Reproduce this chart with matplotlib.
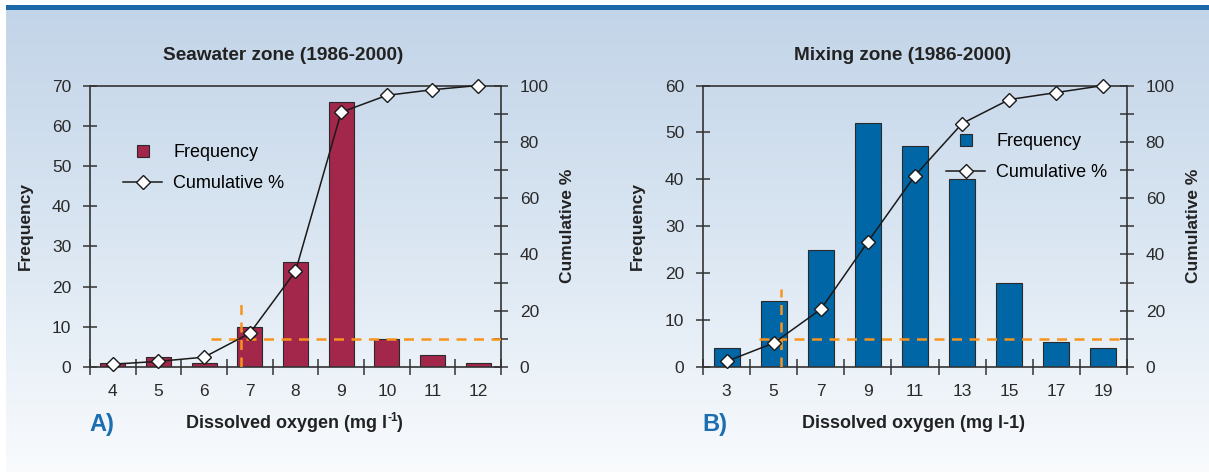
import numpy as np
import matplotlib
matplotlib.use("Agg")
import matplotlib.pyplot as plt
from matplotlib.colors import LinearSegmentedColormap
from matplotlib.lines import Line2D
from matplotlib.patches import Rectangle

plt.rcParams['font.family'] = ['Liberation Sans', 'DejaVu Sans']

# ---- data -------------------------------------------------------------
sea_do = [4, 5, 6, 7, 8, 9, 10, 11, 12]
sea_freq = [1, 2.5, 1, 10, 26, 66, 7, 3, 1]
sea_cum = [1, 2, 3.5, 12, 34, 90.5, 96.5, 98.5, 100]

mix_do = [3, 5, 7, 9, 11, 13, 15, 17, 19]
mix_freq = [4, 14, 25, 52, 47, 40, 18, 5.3, 4]
mix_cum = [2, 8.5, 20.5, 44.5, 68, 86.5, 95, 97.5, 100]

# 10th-percentile guide lines (x in category-index units, y in cumulative %)
sea_p10_x = 2.81
sea_p10_top = 25
sea_p10_start = 2.15
mix_p10_x = 1.16
mix_p10_top = 27.7
mix_p10_start = 0.69
p10_level = 10

W, H = 1209, 472
DARK = '#333333'
ORANGE = '#f7941d'
BLUE_TXT = '#1b6fb0'

fig = plt.figure(figsize=(W / 100, H / 100), dpi=100)

# background panel with vertical gradient and top rule
bg = fig.add_axes([0, 0, 1, 1], zorder=-10)
bg.set_xlim(0, W)
bg.set_ylim(H, 0)
bg.axis('off')
grad = LinearSegmentedColormap.from_list('bg', ['#c2d4e8', '#dae6f2', '#f9fbfd'])
bg.imshow(np.linspace(0, 1, 256).reshape(-1, 1), cmap=grad, aspect='auto',
          extent=(6, W, H, 5), origin='upper', interpolation='bilinear')
bg.add_patch(Rectangle((6, 5), W - 6, 5, color='#1b69a8', lw=0))


def px_axes(left, top, right, bottom):
    return fig.add_axes([left / W, 1 - bottom / H, (right - left) / W, (bottom - top) / H])


def panel(ax, do_vals, freq, cum, color, ymax, vx, vtop, hstart, legend_xy):
    n = len(do_vals)
    x = np.arange(n)
    ax.set_facecolor('none')
    ax.bar(x, freq, width=0.55, color=color, edgecolor='#2a2a2a', linewidth=0.8, zorder=2)
    ax.set_xlim(-0.5, n - 0.5)
    ax.set_ylim(0, ymax)
    ax.set_xticks(np.arange(-0.5, n, 1.0))
    ax.set_xticklabels([])
    ax.set_xticks(x, minor=True)
    ax.set_xticklabels([str(v) for v in do_vals], minor=True)
    ax.tick_params(axis='x', which='major', direction='inout', length=11, width=1.1,
                   color=DARK, labelbottom=False)
    ax.tick_params(axis='x', which='minor', length=0, pad=12, labelsize=12.5,
                   labelcolor='#2a2a2a')
    ax.set_yticks(np.arange(0, ymax + 1, 10))
    ax.tick_params(axis='y', direction='inout', length=10, width=1.1, color=DARK,
                   pad=8.5, labelsize=12.5, labelcolor='#2a2a2a')
    for s in ('left', 'bottom', 'top'):
        ax.spines[s].set_color(DARK)
        ax.spines[s].set_linewidth(1.2)
    ax.spines['right'].set_visible(False)

    ax2 = ax.twinx()
    ax2.set_facecolor('none')
    ax2.set_ylim(0, 100)
    ax2.set_yticks(np.arange(0, 101, 20))
    ax2.set_yticks(np.arange(10, 100, 20), minor=True)
    ax2.tick_params(axis='y', which='both', direction='inout', length=10, width=1.1,
                    color=DARK, pad=8.5, labelsize=12.5, labelcolor='#2a2a2a')
    for s in ('left', 'bottom', 'top'):
        ax2.spines[s].set_visible(False)
    ax2.spines['right'].set_color(DARK)
    ax2.spines['right'].set_linewidth(1.2)

    dash = dict(color=ORANGE, lw=1.8, dashes=(4, 3), zorder=3, solid_capstyle='butt')
    ax2.plot([hstart, n - 0.5], [p10_level, p10_level], **dash)
    ax2.plot([vx, vx], [0, vtop], **dash)

    ax2.plot(x, cum, color='#1a1a1a', lw=1.1, marker='D', ms=7, mfc='white',
             mec='#1a1a1a', mew=1.0, zorder=5, clip_on=False)

    handles = [
        Line2D([], [], ls='none', marker='s', ms=8, mfc=color, mec='#2a2a2a', mew=0.8),
        Line2D([], [], color='#1a1a1a', lw=1.1, marker='D', ms=7, mfc='white',
               mec='#1a1a1a', mew=1.0),
    ]
    ax2.legend(handles, ['Frequency', 'Cumulative %'], loc='upper left',
               bbox_to_anchor=(legend_xy[0] / W, 1 - legend_xy[1] / H),
               bbox_transform=fig.transFigure, frameon=False, fontsize=13,
               borderpad=0, borderaxespad=0, handlelength=2.2, handletextpad=0.6,
               labelspacing=0.78)
    return ax2


axA = px_axes(90, 85.5, 501, 367)
panel(axA, sea_do, sea_freq, sea_cum, '#a3264b', 70,
      sea_p10_x, sea_p10_top, sea_p10_start, (122.7, 144))

axB = px_axes(703, 85.5, 1127, 367)
panel(axB, mix_do, mix_freq, mix_cum, '#0066a5', 60,
      mix_p10_x, mix_p10_top, mix_p10_start, (945.7, 133))


def ftext(xp, yp, s, **kw):
    return fig.text(xp / W, 1 - yp / H, s, **kw)


bold = dict(fontweight='bold', color='#222222')
ftext(283, 55, 'Seawater zone (1986-2000)', ha='center', va='center', fontsize=13.7, **bold)
ftext(903, 55, 'Mixing zone (1986-2000)', ha='center', va='center', fontsize=13.7, **bold)

ftext(25, 226, 'Frequency', ha='center', va='center', rotation=90, fontsize=12.5, **bold)
ftext(567.5, 226, 'Cumulative %', ha='center', va='center', rotation=90, fontsize=12.5, **bold)
ftext(637, 226, 'Frequency', ha='center', va='center', rotation=90, fontsize=12.5, **bold)
ftext(1194, 226, 'Cumulative %', ha='center', va='center', rotation=90, fontsize=12.5, **bold)

# x-axis titles; the seawater one carries a raised "-1" exponent
main = ftext(286, 423, 'Dissolved oxygen (mg l', ha='center', va='center', fontsize=13, **bold)
fig.canvas.draw()
bb = main.get_window_extent()
sup = fig.text((bb.x1 + 0.5) / W, 1 - 418 / H, '-1', ha='left', va='center', fontsize=8.5, **bold)
bb2 = sup.get_window_extent()
fig.text((bb2.x1 - 1.5) / W, 1 - 423 / H, ')', ha='left', va='center', fontsize=13, **bold)

ftext(914, 423, 'Dissolved oxygen (mg l-1)', ha='center', va='center', fontsize=13, **bold)

ftext(89, 425, 'A)', ha='left', va='center', fontsize=17, color=BLUE_TXT, fontweight='bold',
      family=['Liberation Sans Narrow', 'Liberation Sans'])
ftext(702, 425, 'B)', ha='left', va='center', fontsize=17, color=BLUE_TXT, fontweight='bold',
      family=['Liberation Sans Narrow', 'Liberation Sans'])

fig.savefig('out.png', dpi=100)
